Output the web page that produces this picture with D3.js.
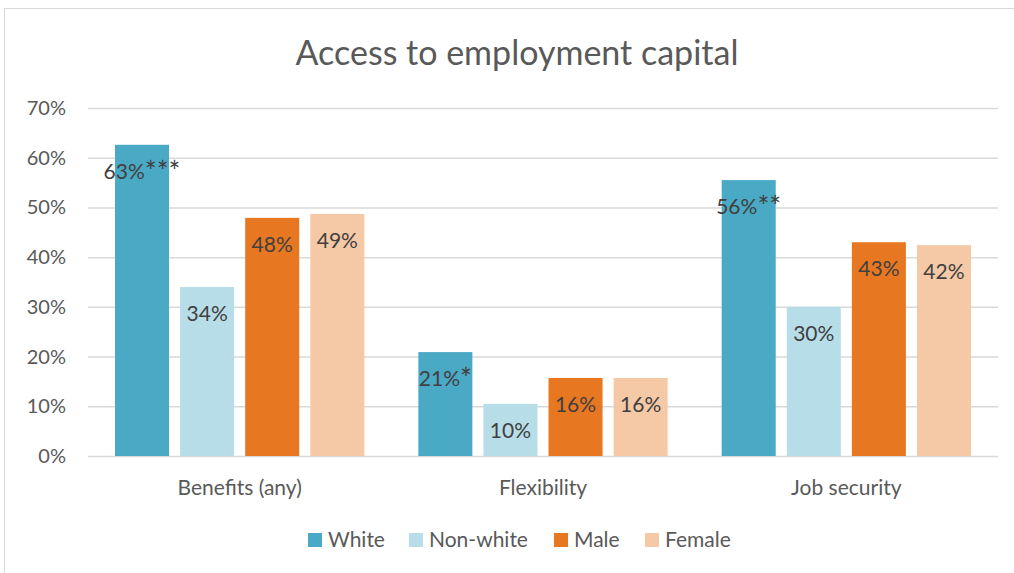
<!DOCTYPE html>
<meta charset="utf-8">
<style>
    body { margin: 0; background: #fff; }
    text { font-family: Lato, "Open Sans", sans-serif; }
    .grid line { stroke: #d9d9d9; stroke-width: 1.5px; }
    .grid path { display: none; }
</style>
<body>
<script src="https://cdnjs.cloudflare.com/ajax/libs/d3/7.8.5/d3.min.js"></script>
<script>
    // chart values
    var categories = ["Benefits (any)", "Flexibility", "Job security"];
    var seriesNames = ["White", "Non-white", "Male", "Female"];
    var seriesColors = ["#4aa9c5", "#b7dde8", "#e87722", "#f5c8a6"];
    var white = [0.626, 0.209, 0.555];
    var nonWhite = [0.340, 0.105, 0.300];
    var male = [0.479, 0.157, 0.430];
    var female = [0.487, 0.157, 0.424];
    var labels = [
        ["63%***", "34%", "48%", "49%"],
        ["21%*", "10%", "16%", "16%"],
        ["56%**", "30%", "43%", "42%"]
    ];
    var yTicks = [0, 0.1, 0.2, 0.3, 0.4, 0.5, 0.6, 0.7];

    var W = 1014, H = 573;
    var plotLeft = 88, plotRight = 998, plotTop = 108, plotBottom = 456;

    var svg = d3.select("body").append("svg")
        .attr("width", W)
        .attr("height", H);

    // outer frame
    svg.append("rect")
        .attr("x", 4.5).attr("y", 8.5)
        .attr("width", W + 10).attr("height", H + 10)
        .attr("fill", "none")
        .attr("stroke", "#d9d9d9")
        .attr("stroke-width", 1);

    svg.append("text")
        .attr("x", 517).attr("y", 65)
        .attr("text-anchor", "middle")
        .attr("fill", "#595959")
        .style("font-size", "34px")
        .text("Access to employment capital");

    var y = d3.scaleLinear().domain([0, 0.7]).range([plotBottom, plotTop]);
    var x0 = d3.scaleBand().domain(categories).range([plotLeft, plotRight]);
    var x1 = d3.scaleBand().domain(seriesNames)
        .range([0, x0.bandwidth()]).paddingInner(0.17).paddingOuter(0.415);

    // gridlines
    svg.append("g")
        .attr("class", "grid")
        .attr("transform", "translate(" + plotLeft + ",0)")
        .call(d3.axisRight(y).tickValues(yTicks).tickSize(plotRight - plotLeft).tickFormat(""));

    // y tick labels
    svg.append("g").selectAll("text")
        .data(yTicks)
        .enter().append("text")
        .attr("x", 66)
        .attr("y", function(d) { return y(d); })
        .attr("dy", "0.35em")
        .attr("text-anchor", "end")
        .attr("fill", "#595959")
        .style("font-size", "20px")
        .text(d3.format(".0%"));

    var rows = categories.map(function(c, i) {
        return { cat: c, vals: [white[i], nonWhite[i], male[i], female[i]], labs: labels[i] };
    });

    var groups = svg.selectAll(".group")
        .data(rows)
        .enter().append("g")
        .attr("class", "group")
        .attr("transform", function(d) { return "translate(" + x0(d.cat) + ",0)"; });

    groups.selectAll("rect")
        .data(function(d) { return d.vals.map(function(v, j) { return { s: seriesNames[j], v: v, j: j }; }); })
        .enter().append("rect")
        .attr("x", function(d) { return x1(d.s); })
        .attr("y", function(d) { return y(d.v); })
        .attr("width", x1.bandwidth())
        .attr("height", function(d) { return plotBottom - y(d.v); })
        .attr("fill", function(d) { return seriesColors[d.j]; });

    var labText = groups.selectAll(".lab")
        .data(function(d) { return d.vals.map(function(v, j) { return { s: seriesNames[j], v: v, t: d.labs[j] }; }); })
        .enter().append("text")
        .attr("class", "lab")
        .attr("x", function(d) { return x1(d.s) + x1.bandwidth() / 2; })
        .attr("y", function(d) { return y(d.v) + 34; })
        .attr("text-anchor", "middle")
        .attr("fill", "#404040")
        .style("font-size", "21px");
    labText.append("tspan")
        .text(function(d) { return d.t.replace(/\*+/, ""); });
    labText.append("tspan")
        .attr("dy", "0.12em")
        .style("font-size", "28px")
        .text(function(d) { var m = d.t.match(/\*+/); return m ? m[0] : ""; });

    // category labels
    svg.append("g").selectAll("text")
        .data(categories)
        .enter().append("text")
        .attr("x", function(d) { return x0(d) + x0.bandwidth() / 2; })
        .attr("y", 495)
        .attr("text-anchor", "middle")
        .attr("fill", "#595959")
        .style("font-size", "21px")
        .text(function(d) { return d; });

    // legend
    var legendX = [308, 409, 554, 645];
    var legend = svg.append("g").selectAll("g")
        .data(seriesNames)
        .enter().append("g")
        .attr("transform", function(d, i) { return "translate(" + legendX[i] + ",533)"; });
    legend.append("rect")
        .attr("width", 14).attr("height", 14)
        .attr("fill", function(d, i) { return seriesColors[i]; });
    legend.append("text")
        .attr("x", 20).attr("y", 14)
        .attr("fill", "#595959")
        .style("font-size", "21px")
        .text(function(d) { return d; });
</script>
</body>
